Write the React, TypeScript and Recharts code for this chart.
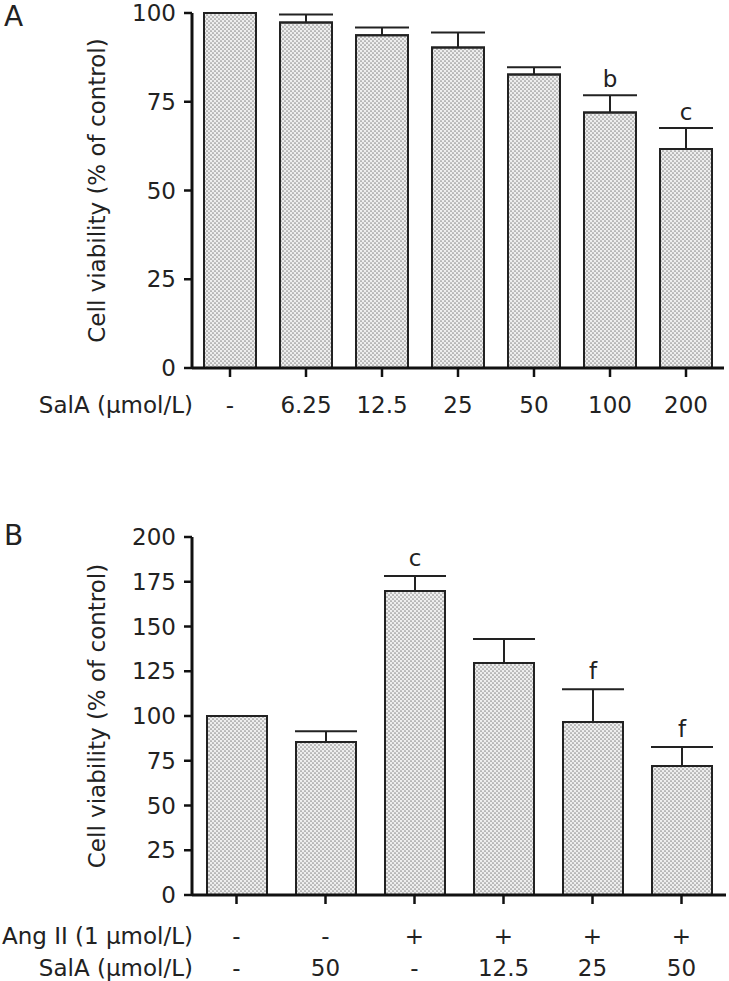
import { Bar, BarChart, ErrorBar, LabelList, XAxis, YAxis } from "recharts";

// Panel A: SalA dose alone
const doseA = ["-", "6.25", "12.5", "25", "50", "100", "200"];
const viabilityA = [100, 97.3, 93.7, 90.3, 82.7, 72, 61.7];
const errorA = [0, 2.3, 2.2, 4.2, 2, 4.8, 5.9];
const letterA = ["", "", "", "", "", "b", "c"];
const ticksA = [0, 25, 50, 75, 100];

// Panel B: Ang II with/without SalA
const angB = ["-", "-", "+", "+", "+", "+"];
const salaB = ["-", "50", "-", "12.5", "25", "50"];
const viabilityB = [100, 85.5, 169.8, 129.6, 96.6, 72];
const errorB = [0, 6, 8.4, 13.4, 18.4, 10.7];
const letterB = ["", "", "c", "", "f", "f"];
const ticksB = [0, 25, 50, 75, 100, 125, 150, 175, 200];

const FONT = "'DejaVu Sans', 'Open Sans', sans-serif";
const INK = "#222";

const dataA = doseA.map((d, i) => ({
  idx: i,
  value: viabilityA[i],
  err: [0, errorA[i]],
}));

const dataB = salaB.map((_, i) => ({
  idx: i,
  value: viabilityB[i],
  err: [0, errorB[i]],
}));

const textStyle = { fontFamily: FONT, fontSize: 23, fill: INK };

function TickA(props: any) {
  const { x, y, index } = props;
  return (
    <g>
      {index === 0 && (
        <text x={193} y={y + 34} textAnchor="end" style={textStyle}>
          SalA (μmol/L)
        </text>
      )}
      <text x={x} y={y + 34} textAnchor="middle" style={textStyle}>
        {doseA[index]}
      </text>
    </g>
  );
}

function TickB(props: any) {
  const { x, y, index } = props;
  return (
    <g>
      {index === 0 && (
        <>
          <text x={193} y={y + 38} textAnchor="end" style={textStyle}>
            Ang II (1 μmol/L)
          </text>
          <text x={193} y={y + 70} textAnchor="end" style={textStyle}>
            SalA (μmol/L)
          </text>
        </>
      )}
      <text x={x} y={y + 38} textAnchor="middle" style={textStyle}>
        {angB[index]}
      </text>
      <text x={x} y={y + 70} textAnchor="middle" style={textStyle}>
        {salaB[index]}
      </text>
    </g>
  );
}

function YTitle(props: any) {
  const vb = props.viewBox || {};
  const cy = vb.y + vb.height / 2;
  return (
    <text
      x={97}
      y={cy}
      transform={`rotate(-90, 97, ${cy})`}
      textAnchor="middle"
      dominantBaseline="central"
      style={{ fontFamily: FONT, fontSize: 23, fill: INK }}
    >
      Cell viability (% of control)
    </text>
  );
}

const letterLabel =
  (letters: string[], errs: number[], gap: number) => (props: any) => {
    const { x, y, width, height, index, value } = props;
    if (!letters[index]) return null;
    const top = Number(y) - errs[index] * (Number(height) / Number(value));
    return (
      <text
        x={Number(x) + Number(width) / 2}
        y={top - gap}
        textAnchor="middle"
        style={{ fontFamily: FONT, fontSize: 23, fill: INK }}
      >
        {letters[index]}
      </text>
    );
  };

const panelLetter = (top: number): React.CSSProperties => ({
  position: "absolute",
  left: 4,
  top,
  fontFamily: FONT,
  fontSize: 28,
  color: INK,
  lineHeight: 1,
});

export default function App() {
  return (
    <div
      style={{
        position: "absolute",
        left: 0,
        top: 0,
        width: 729,
        height: 981,
        background: "#fff",
      }}
    >
      <svg width={0} height={0} style={{ position: "absolute" }}>
        <defs>
          <pattern id="dots" width={4} height={4} patternUnits="userSpaceOnUse">
            <rect width={4} height={4} fill="#eeeeee" />
            <circle cx={1} cy={1} r={0.85} fill="#8c8c8c" />
            <circle cx={3} cy={3} r={0.85} fill="#8c8c8c" />
          </pattern>
        </defs>
      </svg>

      <div style={panelLetter(3)}>A</div>
      <div style={{ position: "absolute", left: 0, top: 0 }}>
        <BarChart
          width={729}
          height={450}
          data={dataA}
          margin={{ top: 13, right: 5, bottom: 52, left: 0 }}
          barSize={52}
        >
          <XAxis
            dataKey="idx"
            height={30}
            tickSize={9}
            axisLine={{ stroke: "#111", strokeWidth: 3 }}
            tickLine={{ stroke: "#111", strokeWidth: 2.5 }}
            tick={<TickA />}
            interval={0}
          />
          <YAxis
            width={192}
            domain={[0, 100]}
            ticks={ticksA}
            tickSize={8}
            tickMargin={8}
            axisLine={{ stroke: "#111", strokeWidth: 3 }}
            tickLine={{ stroke: "#111", strokeWidth: 2.5 }}
            tick={{ ...textStyle }}
            label={YTitle}
          />
          <Bar
            dataKey="value"
            fill="url(#dots)"
            stroke={INK}
            strokeWidth={2}
            isAnimationActive={false}
          >
            <ErrorBar
              dataKey="err"
              width={27}
              stroke={INK}
              strokeWidth={2}
              direction="y"
              isAnimationActive={false}
            />
            <LabelList
              dataKey="value"
              content={letterLabel(letterA, errorA, 8)}
            />
          </Bar>
        </BarChart>
      </div>

      <div style={panelLetter(522)}>B</div>
      <div style={{ position: "absolute", left: 0, top: 450 }}>
        <BarChart
          width={729}
          height={531}
          data={dataB}
          margin={{ top: 87, right: 3, bottom: 56, left: 0 }}
          barSize={60}
        >
          <XAxis
            dataKey="idx"
            height={30}
            tickSize={9}
            axisLine={{ stroke: "#111", strokeWidth: 3 }}
            tickLine={{ stroke: "#111", strokeWidth: 2.5 }}
            tick={<TickB />}
            interval={0}
          />
          <YAxis
            width={192}
            domain={[0, 200]}
            ticks={ticksB}
            tickSize={8}
            tickMargin={8}
            axisLine={{ stroke: "#111", strokeWidth: 3 }}
            tickLine={{ stroke: "#111", strokeWidth: 2.5 }}
            tick={{ ...textStyle }}
            label={YTitle}
          />
          <Bar
            dataKey="value"
            fill="url(#dots)"
            stroke={INK}
            strokeWidth={2}
            isAnimationActive={false}
          >
            <ErrorBar
              dataKey="err"
              width={31}
              stroke={INK}
              strokeWidth={2}
              direction="y"
              isAnimationActive={false}
            />
            <LabelList
              dataKey="value"
              content={letterLabel(letterB, errorB, 10)}
            />
          </Bar>
        </BarChart>
      </div>
    </div>
  );
}
